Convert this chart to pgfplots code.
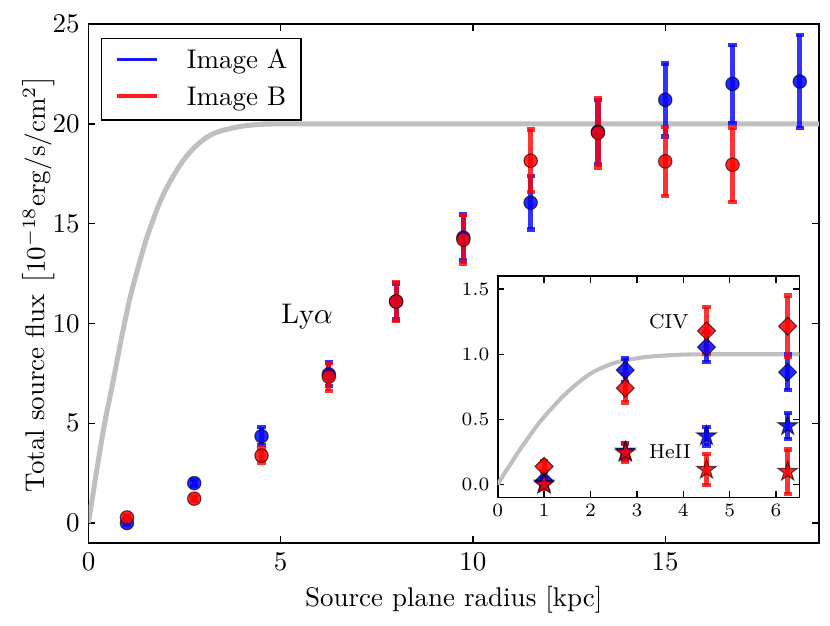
\documentclass[border=0pt]{standalone}
\usepackage{pgfplots}
\usepackage{pgfplotstable}
\pgfplotsset{compat=1.18}
\definecolor{curvegray}{RGB}{191,191,191}
\pgfdeclareplotmark{fstar}{%
  \pgfpathmoveto{\pgfpointpolar{90}{\pgfplotmarksize}}%
  \pgfpathlineto{\pgfpointpolar{126}{0.382\pgfplotmarksize}}%
  \pgfpathlineto{\pgfpointpolar{162}{\pgfplotmarksize}}%
  \pgfpathlineto{\pgfpointpolar{198}{0.382\pgfplotmarksize}}%
  \pgfpathlineto{\pgfpointpolar{234}{\pgfplotmarksize}}%
  \pgfpathlineto{\pgfpointpolar{270}{0.382\pgfplotmarksize}}%
  \pgfpathlineto{\pgfpointpolar{306}{\pgfplotmarksize}}%
  \pgfpathlineto{\pgfpointpolar{342}{0.382\pgfplotmarksize}}%
  \pgfpathlineto{\pgfpointpolar{18}{\pgfplotmarksize}}%
  \pgfpathlineto{\pgfpointpolar{54}{0.382\pgfplotmarksize}}%
  \pgfpathclose
  \pgfusepathqfillstroke
}
\pgfplotstableread{
x y e
1 0.0 0.1
2.75 2.0 0.15
4.5 4.35 0.45
6.25 7.45 0.6
8 11.1 0.9
9.75 14.3 1.15
11.5 16.05 1.34
13.25 19.6 1.6
15 21.2 1.83
16.75 22.0 1.96
18.5 22.12 2.33
}\lyaA
\pgfplotstableread{
x y e
1 0.28 0.1
2.75 1.22 0.12
4.5 3.38 0.35
6.25 7.33 0.7
8 11.1 0.97
9.75 14.2 1.22
11.5 18.15 1.57
13.25 19.55 1.73
15 18.12 1.72
16.75 17.95 1.86
}\lyaB
\pgfplotstableread{
x y
0 0
0.2 2.48
0.42 5.0
0.63 7.0
0.85 9.2
1.07 11.2
1.29 12.8
1.5 14.2
1.72 15.4
1.93 16.4
2.15 17.2
2.37 17.9
2.58 18.45
2.8 18.9
3.02 19.25
3.24 19.5
3.45 19.65
3.67 19.76
3.9 19.85
4.1 19.91
4.3 19.95
4.5 19.975
4.75 19.99
5.0 20
5.5 20
19 20
}\modelmain
\pgfplotstableread{
x y
0 0.0
0.15 0.09
0.3 0.17
0.48 0.27
0.66 0.36
0.83 0.445
1.0 0.52
1.19 0.595
1.37 0.665
1.55 0.725
1.73 0.78
1.91 0.83
2.09 0.87
2.27 0.9
2.44 0.925
2.62 0.943
2.8 0.958
2.98 0.968
3.16 0.977
3.38 0.985
3.6 0.99
3.8 0.994
4.0 0.997
4.25 0.999
4.5 1.0
4.8 1.0
6.5 1.0
}\modelinset
\pgfplotstableread{
x y e
1 0.03 0.03
2.75 0.878 0.09
4.5 1.055 0.115
6.25 0.862 0.135
}\civA
\pgfplotstableread{
x y e
1 0.14 0.04
2.75 0.74 0.11
4.5 1.18 0.18
6.25 1.215 0.235
}\civB
\pgfplotstableread{
x y e
1 0.01 0.03
2.75 0.255 0.065
4.5 0.372 0.072
6.25 0.45 0.1
}\heA
\pgfplotstableread{
x y e
1 0.0 0.03
2.75 0.245 0.07
4.5 0.115 0.12
6.25 0.1 0.17
}\heB
\pgfplotsset{
  ebA/.style={error bars/.cd, y dir=both, y explicit, error mark=|,
    error bar style={line width=1.9pt, blue, opacity=0.8},
    error mark options={line width=1.6pt, mark size=1.5pt, blue, opacity=0.8}},
  ebB/.style={error bars/.cd, y dir=both, y explicit, error mark=|,
    error bar style={line width=1.9pt, red, opacity=0.8},
    error mark options={line width=1.6pt, mark size=1.5pt, red, opacity=0.8}},
}
\begin{document}
\begin{tikzpicture}
\useasboundingbox (-32.78pt,-30.74pt) rectangle (274.63pt,201.11pt);
\begin{axis}[
  name=main, at={(0pt,0pt)}, anchor=south west,
  width=270.56pt, height=192.2pt, scale only axis,
  xmin=0, xmax=19, ymin=-1, ymax=25,
  xtick={0,5,10,15}, ytick={0,5,10,15,20,25},
  minor tick num=0,
  tick align=inside, major tick length=2.5pt,
  tick style={black, line width=0.5pt},
  axis line style={line width=0.6pt},
  xticklabel style={inner sep=0pt, anchor=north, yshift=-3.7pt},
  yticklabel style={inner sep=0pt, anchor=east, xshift=-3.1pt},
  every axis x label/.style={at={(axis description cs:0.5,-0.1228)}, anchor=base},
  every axis y label/.style={at={(axis description cs:-0.0596,0.5)}, anchor=base, rotate=90},
  xlabel={Source plane radius [kpc]},
  ylabel={Total source flux $\left[10^{-18}\mathrm{erg/s/cm^2}\right]$},
  legend style={at={(axis description cs:0.0171,0.9736)}, anchor=north west,
    draw=black, line width=0.5pt, inner xsep=5pt, inner ysep=4pt,
    row sep=5.2pt,
    nodes={inner sep=0pt}, cells={anchor=base west}},
  legend image code/.code={\draw[#1] (0pt,3.4pt) -- (15pt,3.4pt);},
]
\addlegendimage{blue, opacity=0.9, line width=1.3pt}
\addlegendentry{\hspace*{10.3pt}Image A}
\addlegendimage{red, opacity=0.9, line width=1.3pt}
\addlegendentry{\hspace*{10.3pt}Image B}
\addplot[forget plot, curvegray, line width=1.85pt, smooth] table[x=x,y=y] {\modelmain};
\addplot[forget plot, only marks, mark=*, mark size=2.5pt,
  mark options={fill=blue, fill opacity=0.85, draw=black, draw opacity=0.6, line width=0.4pt},
  ebA] table[x=x, y=y, y error=e] {\lyaA};
\addplot[forget plot, only marks, mark=*, mark size=2.5pt,
  mark options={fill=red, fill opacity=0.85, draw=black, draw opacity=0.6, line width=0.4pt},
  ebB] table[x=x, y=y, y error=e] {\lyaB};
\node[anchor=base west, inner sep=0pt, font=\fontsize{10.5}{12}\selectfont] at (axis cs:5,10) {Ly$\alpha$};
\end{axis}
\begin{axis}[
  at={(151.56pt,16.78pt)}, anchor=south west,
  width=111.7pt, height=82.1pt, scale only axis,
  axis background/.style={fill=white},
  xmin=0, xmax=6.5, ymin=-0.1, ymax=1.6,
  xtick={0,1,2,3,4,5,6}, ytick={0,0.5,1,1.5},
  minor tick num=0,
  tick align=inside, major tick length=2.5pt,
  tick style={black, line width=0.5pt},
  axis line style={line width=0.6pt},
  tick label style={font=\fontsize{7.5}{9}\selectfont},
  xticklabel style={inner sep=0pt, anchor=north, yshift=-2.1pt},
  yticklabel style={inner sep=0pt, anchor=east, xshift=-2.85pt,
    /pgf/number format/.cd, fixed, fixed zerofill, precision=1},
]
\addplot[curvegray, line width=1.5pt, smooth] table[x=x,y=y] {\modelinset};
\addplot[only marks, mark=square*, mark size=2.36pt,
  mark options={rotate=45, fill=blue, fill opacity=0.85, draw=black, draw opacity=0.6, line width=0.4pt},
  ebA] table[x=x, y=y, y error=e] {\civA};
\addplot[only marks, mark=square*, mark size=2.36pt,
  mark options={rotate=45, fill=red, fill opacity=0.85, draw=black, draw opacity=0.6, line width=0.4pt},
  ebB] table[x=x, y=y, y error=e] {\civB};
\addplot[only marks, mark=fstar, mark size=3.8pt,
  mark options={fill=blue, fill opacity=0.85, draw=black, draw opacity=0.6, line width=0.4pt},
  ebA] table[x=x, y=y, y error=e] {\heA};
\addplot[only marks, mark=fstar, mark size=3.8pt,
  mark options={fill=red, fill opacity=0.85, draw=black, draw opacity=0.6, line width=0.4pt},
  ebB] table[x=x, y=y, y error=e] {\heB};
\node[anchor=base west, inner sep=0pt, font=\fontsize{7.5}{9}\selectfont] at (axis cs:3.25,1.2) {CIV};
\node[anchor=base west, inner sep=0pt, font=\fontsize{7.5}{9}\selectfont] at (axis cs:3.25,0.2) {HeII};
\end{axis}
\end{tikzpicture}
\end{document}
